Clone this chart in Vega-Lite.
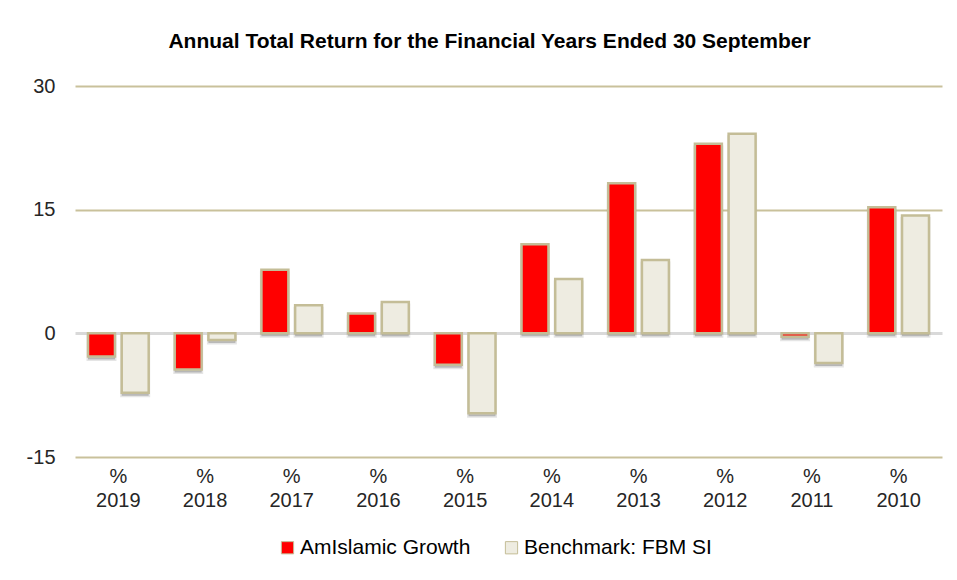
{
  "$schema": "https://vega.github.io/schema/vega-lite/v6.json",
  "autosize": "none",
  "width": 867,
  "height": 371,
  "padding": {"left": 75, "top": 86, "right": 15, "bottom": 123},
  "background": "white",
  "title": {
    "text": "Annual  Total Return for the Financial  Years Ended 30 September",
    "font": "Liberation Sans",
    "fontSize": 21,
    "fontWeight": "bold",
    "color": "#000000",
    "anchor": "middle",
    "dx": -19,
    "offset": 24
  },
  "data": {
    "values": [
      {"year": "2019", "series": "AmIslamic Growth", "value": -2.8},
      {"year": "2019", "series": "Benchmark: FBM SI", "value": -7.2},
      {"year": "2018", "series": "AmIslamic Growth", "value": -4.4},
      {"year": "2018", "series": "Benchmark: FBM SI", "value": -0.8},
      {"year": "2017", "series": "AmIslamic Growth", "value": 7.7},
      {"year": "2017", "series": "Benchmark: FBM SI", "value": 3.4},
      {"year": "2016", "series": "AmIslamic Growth", "value": 2.4},
      {"year": "2016", "series": "Benchmark: FBM SI", "value": 3.8},
      {"year": "2015", "series": "AmIslamic Growth", "value": -3.8},
      {"year": "2015", "series": "Benchmark: FBM SI", "value": -9.7},
      {"year": "2014", "series": "AmIslamic Growth", "value": 10.8},
      {"year": "2014", "series": "Benchmark: FBM SI", "value": 6.6},
      {"year": "2013", "series": "AmIslamic Growth", "value": 18.2},
      {"year": "2013", "series": "Benchmark: FBM SI", "value": 8.9},
      {"year": "2012", "series": "AmIslamic Growth", "value": 23.0},
      {"year": "2012", "series": "Benchmark: FBM SI", "value": 24.2},
      {"year": "2011", "series": "AmIslamic Growth", "value": -0.4},
      {"year": "2011", "series": "Benchmark: FBM SI", "value": -3.6},
      {"year": "2010", "series": "AmIslamic Growth", "value": 15.3},
      {"year": "2010", "series": "Benchmark: FBM SI", "value": 14.3}
    ]
  },
  "encoding": {
    "x": {
      "field": "year",
      "type": "nominal",
      "sort": null,
      "scale": {"paddingInner": 0.3, "paddingOuter": 0.15},
      "axis": {
        "title": null,
        "labelExpr": "['%', datum.label]",
        "labelAngle": 0,
        "labelFont": "Liberation Sans",
        "labelFontSize": 20,
        "labelColor": "#262626",
        "labelLineHeight": 24,
        "labelPadding": 9,
        "ticks": false,
        "domain": false,
        "grid": false
      }
    },
    "xOffset": {
      "field": "series",
      "type": "nominal",
      "sort": ["AmIslamic Growth", "Benchmark: FBM SI"],
      "scale": {"paddingInner": 0.2}
    },
    "y": {
      "field": "value",
      "type": "quantitative",
      "scale": {"domain": [-15, 30], "nice": false, "zero": false},
      "axis": {
        "title": null,
        "values": [-15, 0, 15, 30],
        "labelExpr": "'' + datum.value",
        "labelFont": "Liberation Sans",
        "labelFontSize": 20,
        "labelColor": "#262626",
        "labelPadding": 20,
        "ticks": false,
        "domain": false,
        "grid": true,
        "gridColor": {"condition": {"test": "datum.value === 0", "value": "#D9D9D9"}, "value": "#C9C19B"},
        "gridWidth": {"condition": {"test": "datum.value === 0", "value": 3}, "value": 2},
        "gridOpacity": 1
      }
    }
  },
  "layer": [
    {
      "mark": {"type": "bar", "fill": "#7F7F7F", "fillOpacity": 0.45, "stroke": "#7F7F7F", "strokeWidth": 3, "strokeOpacity": 0.2, "yOffset": 3}
    },
    {
      "mark": {"type": "bar", "stroke": "#C4BD97", "strokeWidth": 2.5},
      "encoding": {
        "color": {
          "field": "series",
          "type": "nominal",
          "sort": ["AmIslamic Growth", "Benchmark: FBM SI"],
          "scale": {"domain": ["AmIslamic Growth", "Benchmark: FBM SI"], "range": ["#FF0000", "#EEECE1"]},
          "legend": {
            "title": null,
            "orient": "none",
            "direction": "horizontal",
            "legendX": 202,
            "legendY": 451,
            "symbolType": "square",
            "symbolSize": 150,
            "symbolStrokeColor": "#C4BD97",
            "symbolStrokeWidth": 1,
            "labelFont": "Liberation Sans",
            "labelFontSize": 21,
            "labelColor": "#000000",
            "labelLimit": 400,
            "labelOffset": 2,
            "columnPadding": 30,
            "symbolOffset": 0
          }
        }
      }
    }
  ],
  "config": {
    "view": {"stroke": null}
  }
}
